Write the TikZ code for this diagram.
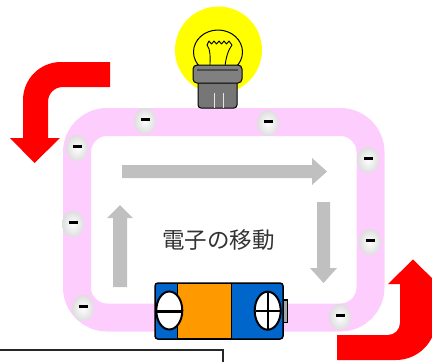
\documentclass[tikz,border=0pt]{standalone}
\usepackage{fontspec}
\newfontfamily\jpfont{Noto Sans CJK JP}
\usetikzlibrary{shapes.geometric,calc}
\definecolor{wirepink}{RGB}{253,206,253}
\definecolor{bulbyellow}{RGB}{255,255,0}
\definecolor{flowgray}{RGB}{192,192,192}
\definecolor{battblue}{RGB}{0,102,204}
\definecolor{battorange}{RGB}{255,153,0}
\definecolor{basegray}{RGB}{128,128,128}
\tikzset{
  electron/.style={ellipse, minimum width=22pt, minimum height=26pt, inner sep=0pt,
    shading=radial, inner color=white, outer color=black!13},
  flowarrow/.style={fill=flowgray, draw=none},
  bigarrow/.style={fill=red, draw=none},
  wire/.style={draw=wirepink, line width=28pt, rounded corners=30pt},
  terminal/.style={ellipse, draw=black, line width=2pt, fill=white,
    minimum width=26pt, minimum height=38pt, inner sep=0pt},
}
\begin{document}
\begin{tikzpicture}[x=1pt, y=-1pt]
\useasboundingbox (0,0) rectangle (432,362);

% wire loop
\draw[wire] (77,122) rectangle (370.5,317.5);

% light bulb
\fill[bulbyellow] (218.5,50) circle (43.5);
\draw[black, line width=1pt] (218,52) ellipse [x radius=24.5, y radius=22];
\draw[black, line width=0.9pt, line join=round]
  (207,45) -- (209,41) -- (211.5,44) -- (214,41) -- (216.5,44) -- (219,41)
  -- (221.5,44) -- (224,41) -- (226.5,44) -- (229,41) -- (232,45);
\draw[black, line width=0.9pt] (207,45) .. controls (211,50) and (210,58) .. (210,66);
\draw[black, line width=0.9pt] (232,45) .. controls (228,50) and (226,58) .. (225,66);
\draw[black, line width=1pt, fill=basegray!92!black, rounded corners=3pt]
  (198,80) -- (198,108) -- (237,108) -- (237,80);
\draw[black!10, line width=0.6pt] (214,93) -- (214,107.5);
\draw[black!10, line width=0.6pt] (223,93) -- (223,107.5);
\draw[black, line width=1pt, fill=basegray, rounded corners=4pt] (193,65) rectangle (242,83);
\draw[black!70, line width=1.5pt] (197,70) -- (238,70);

% direction of electron flow
\fill[flowarrow] (122,165) -- (312,165) -- (312,158) -- (327,171.5) -- (312,185)
  -- (312,178) -- (122,178) -- cycle;
\fill[flowarrow] (317,202) -- (330,202) -- (330,268) -- (337,268) -- (323.5,283)
  -- (310,268) -- (317,268) -- cycle;
\fill[flowarrow] (113,287) -- (113,218) -- (107,218) -- (120,205) -- (133,218)
  -- (127,218) -- (127,287) -- cycle;

\node[font=\jpfont\fontsize{22.5}{26}\selectfont, text=black!80] (label) at (218.5,240) {電子の移動};

% battery
\draw[black, line width=1.2pt, fill=basegray!70] (283.3,300) rectangle (287.3,322.7);
\draw[black, line width=1.5pt, fill=battblue, rounded corners=3pt] (155,283) rectangle (283,339);
\draw[black, line width=1pt, fill=battorange] (177,283.7) rectangle (231,338.3);
\node[terminal] (minus) at (169.3,310.5) {};
\draw[black, line width=3pt] (157,311) -- (181.5,311);
\node[terminal] (plus) at (267.7,310.7) {};
\draw[black, line width=2pt] (256,310.7) -- (279.5,310.7);
\draw[black, line width=2pt] (267.7,292.5) -- (267.7,329);

% electrons on the wire
\foreach \n/\x/\y in {1/145/121, 2/268/123, 3/77/148, 4/368/160,
                      5/73/224, 6/370/242, 7/83/308, 8/340/317} {
  \node[electron] (e\n) at (\x,\y) {};
  \fill[black] ($(\x,\y)+(-4.5,-3.5)$) rectangle ++(9,3);
}

% big red arrows
\fill[bigarrow] (110,62) -- (61,62) .. controls (40,62) and (23,79) .. (23,100)
  -- (23,138) -- (10,138) -- (34.5,163) -- (60,138) -- (48,138) -- (48,102)
  .. controls (48,93.7) and (54.3,87) .. (63,87) -- (110,87) -- cycle;
\fill[bigarrow] (337,335) -- (388,335) .. controls (394.6,335) and (400,329.6) .. (400,323)
  -- (400,284) -- (388,284) -- (413,259.5) -- (438,284) -- (436,284) -- (436,320)
  .. controls (436,342) and (418,360) .. (396,360) -- (337,360) -- cycle;

% frame corner
\coordinate (f1) at (0,350);
\coordinate (f2) at (223,350);
\coordinate (f3) at (223,363);
\draw[black!85, line width=1.2pt] (f1) -- (f2) -- (f3);
\end{tikzpicture}
\end{document}
